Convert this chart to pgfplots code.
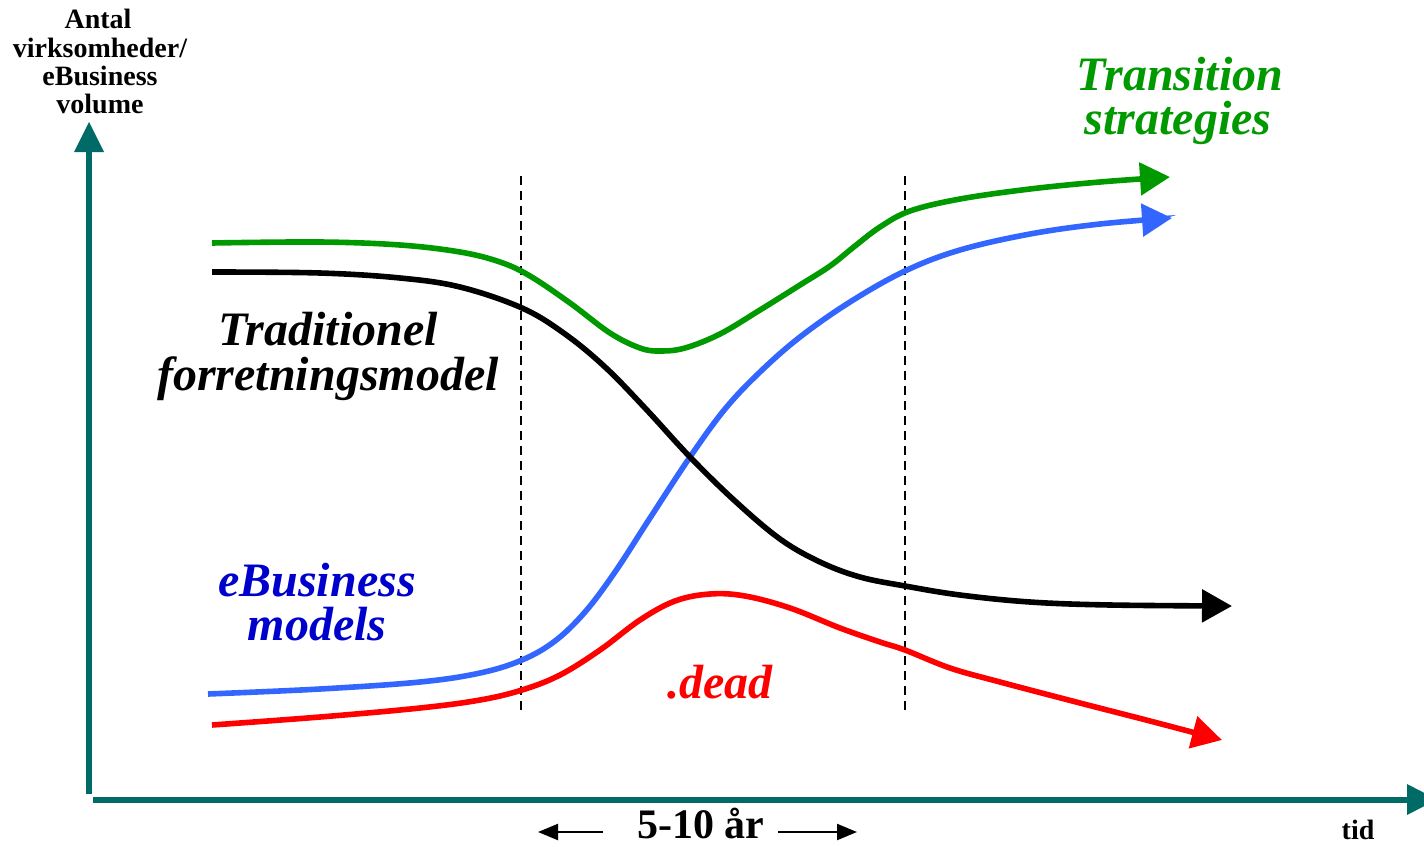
\documentclass[border=0pt]{standalone}
\usepackage{fontspec}
\setmainfont{Liberation Serif}
\usepackage{pgfplots}
\pgfplotsset{compat=1.18}
\usetikzlibrary{arrows.meta}
\definecolor{axteal}{HTML}{006A66}
\definecolor{tgreen}{HTML}{009900}
\definecolor{tblue}{HTML}{3366FF}
\definecolor{tred}{HTML}{FF0000}
\definecolor{tdblue}{HTML}{0000CC}
\begin{document}
\begin{tikzpicture}
\begin{axis}[scale only axis, width=712pt, height=423pt,
  xmin=0, xmax=1424, ymin=0, ymax=846, y dir=reverse,
  axis lines=none, clip=false]
% dashed guides
\addplot[black, line width=1.2pt, dash pattern=on 4.5pt off 3pt] coordinates {(521,176) (521,715)};
\addplot[black, line width=1.2pt, dash pattern=on 4.5pt off 3pt] coordinates {(905,176) (905,715)};
% green
\addplot[tgreen, line width=2.8pt, smooth, tension=0.6, -{Triangle[length=15pt,width=16pt]}] coordinates {
(212,243) (320,242) (400,245) (460,252) (500,262) (530,276) (570,303) (610,333) (640,348) (660,351) (685,348) (720,334) (760,310) (800,285) (830,266) (855,246) (880,227) (910,211) (960,199) (1030,189) (1100,182) (1170,177)};
% blue
\addplot[blue!0!tblue, line width=2.8pt, smooth, tension=0.6, -{Triangle[length=15pt,width=16pt]}] coordinates {
(208,694) (320,689) (420,682) (480,673) (522,660) (555,641) (585,612) (615,572) (650,518) (690,457) (725,409) (760,372) (800,337) (850,302) (905,271) (960,250) (1030,234) (1100,224) (1172,218)};
% black
\addplot[black, line width=2.8pt, smooth, tension=0.6, -{Triangle[length=15pt,width=16pt]}] coordinates {
(212,272) (320,273) (400,278) (460,287) (522,308) (565,334) (605,367) (645,408) (690,457) (735,501) (780,539) (820,562) (860,577) (905,586) (960,595) (1030,602) (1110,605) (1232,606)};
% red
\addplot[tred, line width=2.8pt, smooth, tension=0.6, -{Triangle[length=15pt,width=16pt]}] coordinates {
(212,725) (320,717) (420,708) (480,700) (522,690) (560,675) (600,650) (640,620) (675,601) (710,594) (745,596) (790,608) (840,628) (880,642) (905,650) (950,668) (1000,682) (1080,703) (1150,721) (1222,740)};
% axes
\draw[axteal, line width=3pt] (axis cs:89,794) -- (axis cs:89,148);
\fill[axteal] (axis cs:74,152) -- (axis cs:104,152) -- (axis cs:89,122) -- cycle;
\draw[axteal, line width=3pt] (axis cs:93,800) -- (axis cs:1410,800);
\fill[axteal] (axis cs:1407,784) -- (axis cs:1407,815) -- (axis cs:1437,799.5) -- cycle;
% labels
\begin{scope}[every node/.style={anchor=base, inner sep=0pt, font=\fontsize{14}{15}\selectfont\bfseries}]
\node at (axis cs:98,28) {Antal};
\node at (axis cs:100,57) {virksomheder/};
\node at (axis cs:100,85) {eBusiness};
\node at (axis cs:100,113) {volume};
\node at (axis cs:1358,839) {tid};
\end{scope}
\begin{scope}[every node/.style={anchor=base, inner sep=0pt, font=\fontsize{24}{26}\selectfont\bfseries\itshape}]
\node at (axis cs:328,345) {Traditionel};
\node at (axis cs:328,390) {forretningsmodel};
\node[tgreen] at (axis cs:1180,90) {Transition};
\node[tgreen] at (axis cs:1178,134) {strategies};
\node[tdblue] at (axis cs:317,596) {eBusiness};
\node[tdblue] at (axis cs:317,640) {models};
\node[tred] at (axis cs:720,698) {.dead};
\end{scope}
\node[anchor=base, inner sep=0pt, font=\fontsize{21}{22}\selectfont\bfseries] at (axis cs:701,838) {5-10 år};
\draw[black, line width=1.1pt, -{Triangle[length=10pt,width=8pt]}] (axis cs:603,832) -- (axis cs:538,832);
\draw[black, line width=1.1pt, -{Triangle[length=10pt,width=8pt]}] (axis cs:778,832) -- (axis cs:857,832);
\coordinate (LL) at (axis cs:0,846);
\coordinate (UR) at (axis cs:1424,0);
\end{axis}
\pgfresetboundingbox
\useasboundingbox (LL) rectangle (UR);
\end{tikzpicture}
\end{document}
